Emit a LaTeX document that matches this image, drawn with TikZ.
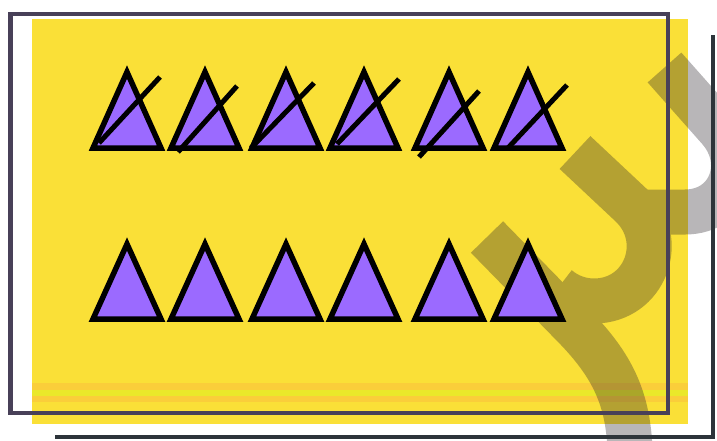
\documentclass[tikz,border=0pt]{standalone}
\usepackage{tikz}
\usetikzlibrary{calc}
\definecolor{cardYellow}{RGB}{250,224,55}
\definecolor{cardOrange}{RGB}{250,206,58}
\definecolor{cardLime}{RGB}{234,232,42}
\definecolor{triPurple}{RGB}{155,106,255}
\definecolor{frameGray}{RGB}{72,64,88}
\definecolor{edgeGray}{RGB}{45,52,58}
\definecolor{stainGray}{RGB}{40,34,40}

\begin{document}
\begin{tikzpicture}[
    x=1pt, y=-1pt,
    tri/.style={draw=black, line width=5.5pt, fill=triPurple, miter limit=10},
    strike/.style={draw=black, line width=5pt},
    stain/.style={draw=stainGray, line width=45pt},
    frame/.style={draw=frameGray, line width=4.5pt}
]
  \useasboundingbox (0,0) rectangle (717,440);
  \fill[white] (0,0) rectangle (717,440);

  % card
  \fill[cardYellow] (32,19) rectangle (688,424);
  \fill[cardOrange] (32,383) rectangle (688,390);
  \fill[cardLime] (32,390) rectangle (688,396);
  \fill[cardOrange] (32,396) rectangle (688,402);

  % faint mark behind
  \begin{scope}[transparency group, opacity=0.33]
    \draw[stain] (664.5,67.5) -- (719,129) .. controls (749,163) and (730,212) .. (685,212) -- (640,212);
    \draw[stain] (575,152.5) -- (631,205) .. controls (668,240) and (645,301) .. (594,301)
                 .. controls (581,301) and (568,296.5) .. (558,288);
    \draw[stain] (487,237) -- (570,322) .. controls (610,362) and (628,395) .. (630,450);
  \end{scope}

  % frames
  \draw[frame] (10.5,14) rectangle (668,413);
  \draw[draw=edgeGray, line width=3.5pt] (713,35) -- (713,437) -- (55,437);

  % crossed row
  \foreach \ax/\sx/\sy/\ex/\ey in {127/99/143/160/77, 205/178/152/237/86, 286/251/148/314/83,
                                   364/337/144/399/79, 449/419/157/479/91, 528/507/149/567/85}{
    \draw[tri] (\ax-34,148) -- (\ax,72) -- (\ax+34,148) -- cycle;
    \draw[strike] (\sx,\sy) -- (\ex,\ey);
  }

  % plain row
  \foreach \ax in {127,205,286,364,449,528}{
    \draw[tri] (\ax-34,319) -- (\ax,244) -- (\ax+34,319) -- cycle;
  }
\end{tikzpicture}
\end{document}
